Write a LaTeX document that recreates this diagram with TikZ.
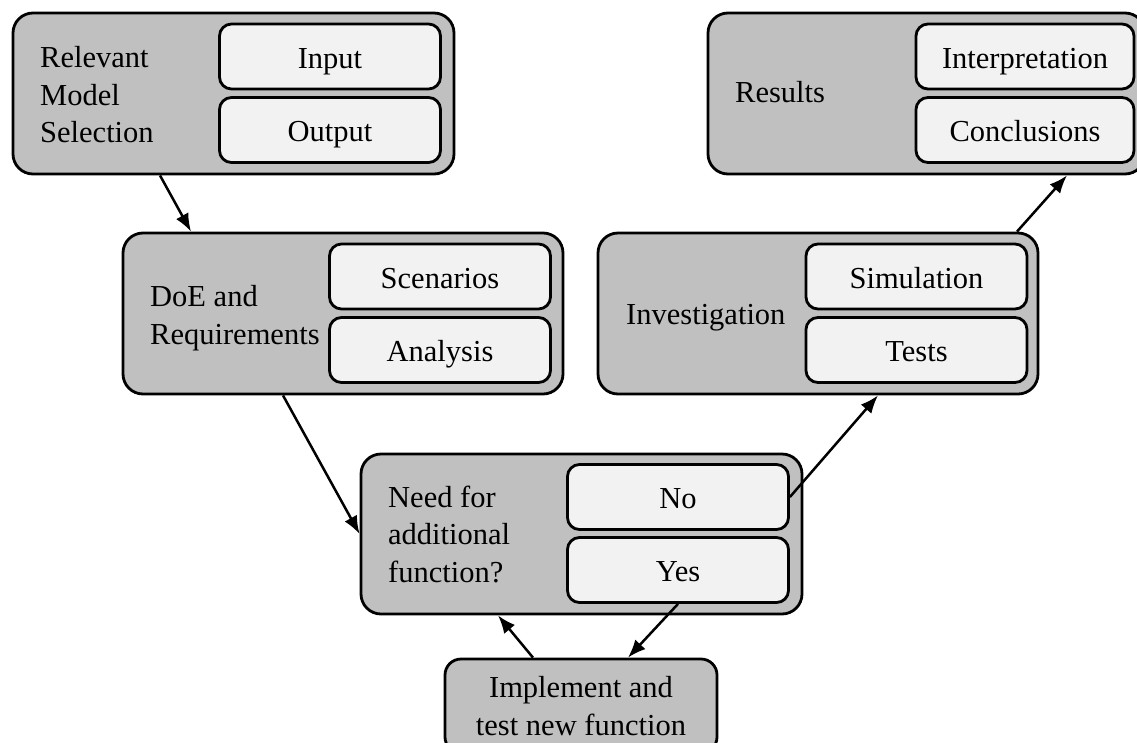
\documentclass[tikz,border=0pt]{standalone}
\usepackage{fontspec}
\setmainfont{Liberation Serif}
\usetikzlibrary{arrows.meta,calc}
\definecolor{outergray}{HTML}{C0C0C0}
\definecolor{innergray}{HTML}{F2F2F2}
\begin{document}
\begin{tikzpicture}[x=1pt,y=-1pt,
  font=\fontsize{30.5}{37.5}\selectfont,
  stage/.style={draw=black, line width=2.8pt, fill=outergray, rounded corners=20pt, inner sep=0pt},
  option/.style={draw=black, line width=2.8pt, fill=innergray, rounded corners=12pt,
    minimum width=221pt, minimum height=65pt, inner sep=0pt, text height=23.4pt, text depth=0pt},
  caption/.style={inner sep=0pt, align=left, anchor=west},
  flow/.style={line width=2.5pt, -{Latex[length=18pt,width=14pt]}}
]
\clip (0,0) rectangle (1137,742);

% stage containers
\node[stage, minimum width=441pt, minimum height=161pt] (sel)  at (233.5,93.5) {};
\node[stage, minimum width=437pt, minimum height=161pt] (res)  at (926.5,93.5) {};
\node[stage, minimum width=440pt, minimum height=161pt] (doe)  at (343,313.5) {};
\node[stage, minimum width=440pt, minimum height=161pt] (inv)  at (818,313.5) {};
\node[stage, minimum width=441pt, minimum height=160pt] (need) at (581.5,534) {};
\node[stage, minimum width=272pt, minimum height=94pt, rounded corners=16pt, align=center] (impl) at (581,706)
  {Implement and\\test new function};

% stage captions
\node[caption] (selcap)  at (40,95)    {Relevant\\Model\\Selection};
\node[caption] (rescap)  at (735,92.5) {Results};
\node[caption] (doecap)  at (150,318)  {DoE and\\Requirements};
\node[caption] (invcap)  at (626,318)  {Investigation};
\node[caption] (needcap) at (388,534)  {Need for\\additional\\function?};

% options inside each stage
\node[option] (input)  at (330,56.5) {Input};
\node[option] (output) at (330,130)  {Output};
\node[option, minimum width=218pt] (interp) at (1025,56.5) {Interpretation};
\node[option, minimum width=218pt] (concl)  at (1025,130)  {Conclusions};
\node[option] (scen)  at (440,276.5)   {Scenarios};
\node[option] (anal)  at (440,350)     {Analysis};
\node[option] (sim)   at (916.5,276.5) {Simulation};
\node[option] (tests) at (916.5,350)   {Tests};
\node[option] (no)    at (678,497) {No};
\node[option] (yes)   at (678,570) {Yes};

% process flow
\draw[flow] ([xshift=-73.5pt]sel.south) -- ([xshift=-152pt]doe.north);
\draw[flow] ([xshift=-60pt]doe.south) -- (need.west);
\draw[flow] (no.east) -- ([xshift=60pt]inv.south);
\draw[flow] ([xshift=199pt]inv.north) -- ([xshift=140.5pt]res.south);
\draw[flow] ([xshift=-48pt]impl.north) -- ([xshift=-83.5pt]need.south);
\draw[flow] (yes.south) -- ([xshift=47pt]impl.north);
\end{tikzpicture}
\end{document}
